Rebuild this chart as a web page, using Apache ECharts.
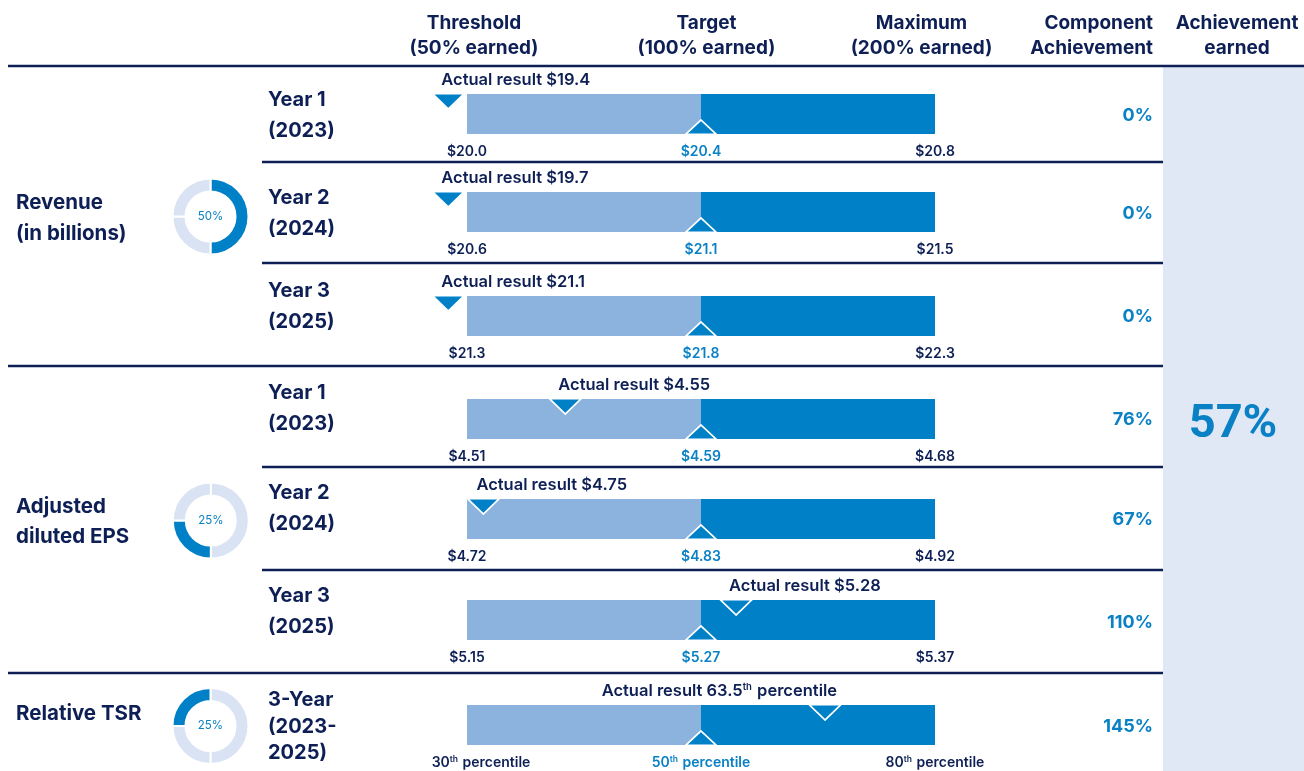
<!DOCTYPE html>
<html><head><meta charset="utf-8">
<script src="https://cdn.jsdelivr.net/npm/echarts@6/dist/echarts.min.js"></script>
<style>html,body{margin:0;padding:0;background:#fff}#c{width:1304px;height:771px}</style>
</head><body><div id="c"></div>
<script>
// ---------------- DATA ----------------
const metrics = ['Revenue\n(in billions)', 'Adjusted\ndiluted EPS', 'Relative TSR'];
const metricWeights = [50, 25, 25];           // % weight shown in the donuts
const donutSlices = [50, 25, 25];              // donut split, clockwise from 12 o'clock
const weightSliceIndex = [0, 1, 2];            // which slice carries the weight
const rowMetric = [0, 0, 0, 1, 1, 1, 2];
const rowNames = ['Year 1\n(2023)', 'Year 2\n(2024)', 'Year 3\n(2025)', 'Year 1\n(2023)', 'Year 2\n(2024)', 'Year 3\n(2025)', '3-Year\n(2023-\n2025)'];
const thresholdLabels = ['$20.0', '$20.6', '$21.3', '$4.51', '$4.72', '$5.15', '30th percentile'];
const targetLabels    = ['$20.4', '$21.1', '$21.8', '$4.59', '$4.83', '$5.27', '50th percentile'];
const maximumLabels   = ['$20.8', '$21.5', '$22.3', '$4.68', '$4.92', '$5.37', '80th percentile'];
const actualLabels    = ['$19.4', '$19.7', '$21.1', '$4.55', '$4.75', '$5.28', '63.5th percentile'];
// performance scale: 0 = threshold, 1 = target, 2 = maximum
const scaleStops = [0, 1, 2];
// where the "actual result" marker sits on that scale
const actualPosition = [-0.08, -0.08, -0.08, 0.42, 0.07, 1.15, 1.53];
const componentAchievement = [0, 0, 0, 76, 67, 110, 145];
const achievementEarned = 57;
const headers = ['Threshold\n(50% earned)', 'Target\n(100% earned)', 'Maximum\n(200% earned)', 'Component\nAchievement', 'Achievement\nearned'];

// ---------------- STYLE / LAYOUT ----------------
const NAVY = '#0d1f55', BLUE = '#0a80c5', BAR_LIGHT = '#8cb3de', BAR_DARK = '#0080c6',
      DONUT_LIGHT = '#d9e3f3', SHADE = '#e1e8f5';
const FONT = 'Inter';
const BAR_LEFT = 467, BAR_WIDTH = 468, BAR_H = 40;
const rowTops = [94, 192, 296, 399, 499, 600, 705];
const yearLabelY = [115.5, 213.5, 306, 408, 508, 611.5, 726.5];
const pctY = [116, 214, 317, 420, 520, 623, 727];
const actualAlign = ['left', 'left', 'left', 'left', 'left', 'left', 'right'];
const minLabelPad = [0, 0, 0, 0, 0, 0, 28];
const metricLabelY = [218.5, 522, 714];
const donutCenters = [[210.5, 216.5], [210.8, 520.5], [210.5, 726]];

function supRich(txt, base, sup, padFirst) {
  let first = true;
  return txt.split(/(\d+(?:\.\d+)?)th/).map((p, k) => {
    if (p === '') return '';
    let b = base;
    if (first && padFirst) { b = base + 'p'; }
    first = false;
    return k % 2 === 1 ? `{${b}|${p}}{${sup}|th}` : `{${b}|${p}}`;
  }).join('');
}

const chart = echarts.init(document.getElementById('c'), null, { renderer: 'canvas' });
const grid = [], xAxis = [], yAxis = [], series = [];
const tokenN = { fontFamily: FONT, fontSize: 14, fontWeight: 600, color: NAVY, lineHeight: 16, verticalAlign: 'middle' };
const tokenS = { fontFamily: FONT, fontSize: 8.5, fontWeight: 600, color: NAVY, verticalAlign: 'top', padding: [0, 1, 0, 0] };

rowTops.forEach((top, i) => {
  grid.push({ left: BAR_LEFT, top: top, width: BAR_WIDTH, height: BAR_H });
  const labs = [thresholdLabels[i], targetLabels[i], maximumLabels[i]];
  xAxis.push({
    type: 'value', gridIndex: i, min: scaleStops[0], max: scaleStops[2], interval: 1,
    axisLine: { show: false }, axisTick: { show: false }, splitLine: { show: false },
    axisLabel: {
      show: true, margin: 10, showMinLabel: true, showMaxLabel: true, hideOverlap: false,
      formatter: v => {
        const k = scaleStops.indexOf(v);
        if (k < 0) return '';
        return k === 1 ? supRich(labs[k], 't', 'ts') : supRich(labs[k], 'n', 'ns', k === 0 && minLabelPad[i] > 0);
      },
      rich: {
        n: tokenN,
        np: Object.assign({}, tokenN, { padding: [0, 0, 0, minLabelPad[i]] }),
        ns: tokenS,
        t: Object.assign({}, tokenN, { color: BLUE }),
        ts: Object.assign({}, tokenS, { color: BLUE })
      }
    }
  });
  yAxis.push({ type: 'category', gridIndex: i, data: [rowNames[i]], show: false });
  series.push({
    type: 'bar', xAxisIndex: i, yAxisIndex: i, stack: 'r' + i, barCategoryGap: 0, silent: true,
    data: [scaleStops[1] - scaleStops[0]], itemStyle: { color: BAR_LIGHT }, z: 2
  });
  series.push({
    type: 'bar', xAxisIndex: i, yAxisIndex: i, stack: 'r' + i, barCategoryGap: 0, silent: true,
    data: [scaleStops[2] - scaleStops[1]], itemStyle: { color: BAR_DARK }, z: 2
  });
  // target marker (upward triangle sitting on the bar's bottom edge)
  series.push({
    type: 'scatter', xAxisIndex: i, yAxisIndex: i, silent: true, clip: false, z: 6,
    symbol: 'triangle', symbolSize: [30, 14], symbolOffset: [0, 13],
    itemStyle: { color: BAR_DARK, borderColor: '#ffffff', borderWidth: 1.5, opacity: 1 },
    data: [[scaleStops[1], 0]]
  });
  // actual result marker (downward triangle hanging from the bar's top edge)
  const al = actualAlign[i];
  series.push({
    type: 'scatter', xAxisIndex: i, yAxisIndex: i, silent: true, clip: false, z: 7,
    symbol: 'triangle', symbolRotate: 180, symbolSize: [31, 15], symbolOffset: [0, -12.5],
    itemStyle: { color: BAR_DARK, borderColor: '#ffffff', borderWidth: 1.5, opacity: 1 },
    data: [[actualPosition[i], 0]],
    label: {
      show: true, position: 'top', distance: 4, align: al, offset: [al === 'left' ? -7 : 12, 0],
      formatter: () => supRich('Actual result ' + actualLabels[i], 'a', 'as'),
      rich: {
        a: { fontFamily: FONT, fontSize: 16.5, fontWeight: 600, color: NAVY, lineHeight: 18, verticalAlign: 'middle' },
        as: { fontFamily: FONT, fontSize: 9.5, fontWeight: 600, color: NAVY, verticalAlign: 'top', padding: [0, 1, 0, 0] }
      }
    }
  });
});

// donuts
metrics.forEach((m, j) => {
  series.push({
    type: 'pie', center: donutCenters[j], radius: [25, 38], startAngle: 90, clockwise: true,
    silent: true, label: { show: false }, labelLine: { show: false },
    itemStyle: { borderColor: '#fff', borderWidth: 2 },
    data: donutSlices.map((v, k) => ({ value: v, itemStyle: { color: k === weightSliceIndex[j] ? BAR_DARK : DONUT_LIGHT } }))
  });
});

// graphics: shading, lines, texts
const g = [];
g.push({ type: 'rect', shape: { x: 1163, y: 67, width: 141, height: 704 }, style: { fill: SHADE }, z: -10, silent: true });
const line = (x1, y, x2) => ({ type: 'line', shape: { x1, y1: y, x2, y2: y }, style: { stroke: NAVY, lineWidth: 2.5 }, silent: true });
g.push(line(8, 66, 1304));
[162, 263, 467, 570].forEach(y => g.push(line(262, y, 1163)));
[366, 673].forEach(y => g.push(line(8, y, 1163)));
const txt = (text, x, y, size, weight, color, align, lh, fam) => ({
  type: 'text', x, y, silent: true,
  style: { text, fill: color, font: `${weight} ${size}px ${fam || FONT}`, textAlign: align, textVerticalAlign: 'middle', lineHeight: lh || size * 1.3 }
});
const headerX = [474, 706.5, 921.5, 1153, 1237];
const headerAlign = ['center', 'center', 'center', 'right', 'center'];
headers.forEach((h, k) => g.push(txt(h, headerX[k], 35.5, 19, 700, NAVY, headerAlign[k], 25)));
metrics.forEach((m, j) => {
  g.push(txt(m, 16, metricLabelY[j], 20.5, 700, NAVY, 'left', 30.5));
  g.push(txt(metricWeights[j] + '%', donutCenters[j][0], donutCenters[j][1], 11.5, 400, BLUE, 'center'));
});
rowNames.forEach((r, i) => {
  g.push(txt(r, 268, yearLabelY[i], 20, 700, NAVY, 'left', i === 6 ? 26.5 : 31));
  g.push(txt(componentAchievement[i] + '%', 1153, pctY[i], 18, 700, BLUE, 'right'));
});
g.push(txt(achievementEarned + '%', 1233, 425, 47, 700, BLUE, 'center', null, 'Roboto'));

chart.setOption({
  animation: false,
  backgroundColor: '#fff',
  grid, xAxis, yAxis, series,
  graphic: g
});
</script>
</body></html>
